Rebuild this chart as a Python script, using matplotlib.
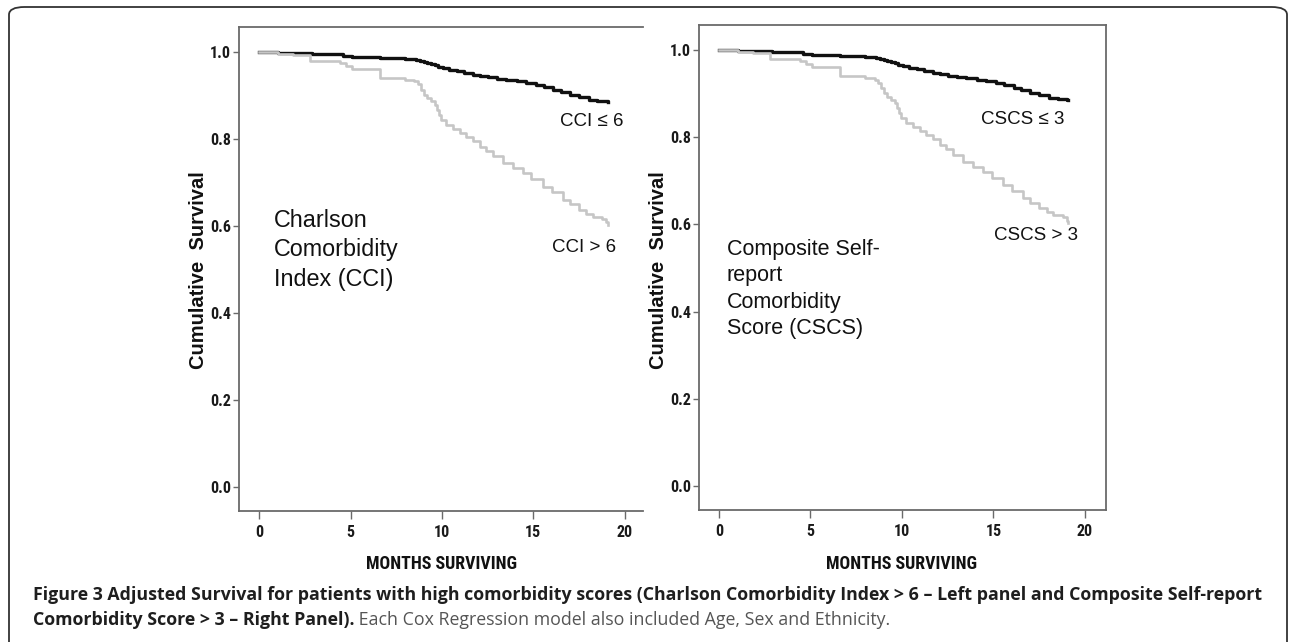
import matplotlib
matplotlib.use('Agg')
import matplotlib.pyplot as plt
from matplotlib import font_manager as fm
from matplotlib.patches import FancyBboxPatch

# ---------------- data ----------------
months_ticks = [0, 5, 10, 15, 20]
surv_ticks = [0.0, 0.2, 0.4, 0.6, 0.8, 1.0]
surv_ticklabels = ["0.0", "0.2", "0.4", "0.6", "0.8", "1.0"]

# Left panel: Charlson Comorbidity Index
cci_low_t = [0.0, 1.05, 1.9, 2.9, 4.3, 4.6, 5.1, 6.6, 8.0, 8.6, 8.8, 9.0, 9.2, 9.4, 9.6,
             9.8, 10.05, 10.4, 10.8, 11.2, 11.7, 12.1, 12.5, 13.0, 13.5, 14.1, 14.6,
             15.15, 15.6, 16.1, 16.5, 17.0, 17.5, 18.05, 18.5, 19.0, 19.1]
cci_low_s = [1.0, 0.998, 0.997, 0.995, 0.994, 0.991, 0.989, 0.986, 0.984, 0.982, 0.980,
             0.977, 0.975, 0.972, 0.969, 0.966, 0.962, 0.958, 0.955, 0.951, 0.947, 0.944,
             0.941, 0.937, 0.935, 0.932, 0.928, 0.924, 0.919, 0.913, 0.907, 0.901, 0.896,
             0.890, 0.888, 0.886, 0.884]
cci_high_t = [0.0, 1.05, 1.87, 2.78, 4.42, 4.78, 5.06, 6.6, 7.97, 8.5, 8.7, 8.85, 9.0,
              9.2, 9.42, 9.6, 9.75, 9.85, 9.97, 10.24, 10.6, 10.97, 11.3, 11.7, 12.06,
              12.4, 12.8, 13.33, 13.9, 14.42, 14.9, 15.51, 16.0, 16.6, 17.0, 17.51, 17.9,
              18.24, 18.78, 19.0, 19.1]
cci_high_s = [1.0, 0.995, 0.992, 0.980, 0.974, 0.968, 0.960, 0.940, 0.936, 0.932, 0.925,
              0.913, 0.901, 0.893, 0.886, 0.878, 0.866, 0.855, 0.844, 0.832, 0.822, 0.813,
              0.805, 0.795, 0.782, 0.772, 0.760, 0.744, 0.732, 0.721, 0.707, 0.690, 0.677,
              0.660, 0.650, 0.637, 0.628, 0.621, 0.617, 0.608, 0.602]

# Right panel: Composite Self-report Comorbidity Score
cscs_low_t = [0.0, 1.05, 1.9, 2.9, 4.3, 4.6, 5.1, 6.6, 8.0, 8.6, 8.8, 9.0, 9.2, 9.4, 9.6,
              9.8, 10.05, 10.4, 10.8, 11.2, 11.7, 12.1, 12.5, 13.0, 13.5, 14.1, 14.6,
              15.15, 15.6, 16.1, 16.5, 17.0, 17.5, 18.05, 18.5, 19.0, 19.1]
cscs_low_s = [1.0, 0.998, 0.997, 0.995, 0.994, 0.991, 0.989, 0.986, 0.984, 0.982, 0.980,
              0.977, 0.975, 0.972, 0.969, 0.966, 0.962, 0.958, 0.955, 0.951, 0.947, 0.944,
              0.941, 0.937, 0.935, 0.932, 0.928, 0.924, 0.919, 0.913, 0.907, 0.901, 0.896,
              0.890, 0.888, 0.886, 0.884]
cscs_high_t = [0.0, 1.05, 1.87, 2.78, 4.42, 4.78, 5.06, 6.6, 7.97, 8.5, 8.7, 8.85, 9.0,
               9.2, 9.42, 9.6, 9.75, 9.85, 9.97, 10.24, 10.6, 10.97, 11.3, 11.7, 12.06,
               12.4, 12.8, 13.33, 13.9, 14.42, 14.9, 15.51, 16.0, 16.6, 17.0, 17.51, 17.9,
               18.24, 18.78, 19.0, 19.1]
cscs_high_s = [1.0, 0.995, 0.992, 0.980, 0.974, 0.968, 0.960, 0.940, 0.936, 0.932, 0.925,
               0.913, 0.901, 0.893, 0.886, 0.878, 0.866, 0.855, 0.844, 0.832, 0.822, 0.813,
               0.805, 0.795, 0.782, 0.772, 0.760, 0.744, 0.732, 0.721, 0.707, 0.690, 0.677,
               0.660, 0.650, 0.637, 0.628, 0.621, 0.617, 0.608, 0.602]

x_label = "MONTHS SURVIVING"
y_label = "Cumulative  Survival"
left_title = "Charlson\nComorbidity\nIndex (CCI)"
right_title = "Composite Self-\nreport\nComorbidity\nScore (CSCS)"
cci_labels = ["CCI \u2264 6", "CCI > 6"]
cscs_labels = ["CSCS \u2264 3", "CSCS > 3"]
caption_bold_1 = ("Figure 3 Adjusted Survival for patients with high comorbidity scores "
                  "(Charlson Comorbidity Index > 6 \u2013 Left panel and Composite Self-report")
caption_bold_2 = "Comorbidity Score > 3 \u2013 Right Panel)."
caption_norm_2 = " Each Cox Regression model also included Age, Sex and Ethnicity."

# ---------------- fonts ----------------
ttf = fm.fontManager.ttflist
names = {f.name for f in ttf}
NARROW_KW = None
for cand in ('Liberation Sans Narrow', 'Arial Narrow', 'Roboto Condensed',
             'Open Sans Condensed'):
    if cand in names:
        NARROW_KW = dict(family=cand, weight='bold')
        break
if NARROW_KW is None:
    if any(f.name == 'DejaVu Sans' and 'ondensed' in f.fname for f in ttf):
        NARROW_KW = dict(family='DejaVu Sans', stretch='condensed', weight='bold')
    else:
        NARROW_KW = dict(family='Liberation Sans', weight='bold')
SANS = 'Liberation Sans'
CAP = 'Open Sans'

W, H = 1290, 642
fig = plt.figure(figsize=(W / 100, H / 100), dpi=100)


def fx(px):
    return px / W


def fy(py):
    return 1 - py / H


SPINE = '#6a6a6a'
BLACK = '#111111'
GREY = '#c6c6c6'


def panel(rect, xlim, ylim, low_t, low_s, high_t, high_s, show_right):
    ax = fig.add_axes(rect)
    ax.plot(low_t, low_s, drawstyle='steps-post', color=BLACK, lw=2.4, zorder=2)
    ax.plot(high_t, high_s, drawstyle='steps-post', color=GREY, lw=1.9, zorder=3)
    ax.set_xlim(*xlim)
    ax.set_ylim(*ylim)
    ax.set_xticks(months_ticks)
    ax.set_xticklabels([str(m) for m in months_ticks])
    ax.set_yticks(surv_ticks)
    ax.set_yticklabels(surv_ticklabels)
    for s in ax.spines.values():
        s.set_color(SPINE)
        s.set_linewidth(1.3)
    ax.spines['right'].set_visible(show_right)
    ax.tick_params(axis='both', direction='out', length=4.5, width=1.0, color=SPINE,
                   pad=1.2)
    ax.tick_params(axis='x', length=6, pad=4.0)
    for lab in ax.get_xticklabels() + ax.get_yticklabels():
        lab.set_fontproperties(fm.FontProperties(size=11.5, **NARROW_KW))
        lab.set_color('#1a1a1a')
    return ax


axL = panel([fx(239), fy(511), (643 - 239) / W, (511 - 27) / H], (-1.1, 21.0),
            (-0.055, 1.057), cci_low_t, cci_low_s, cci_high_t, cci_high_s, False)
axR = panel([fx(699), fy(510), (1106 - 699) / W, (510 - 25) / H], (-1.093, 21.15),
            (-0.055, 1.057), cscs_low_t, cscs_low_s, cscs_high_t, cscs_high_s, True)

fig.canvas.draw()
r = fig.canvas.get_renderer()

# x axis labels: fit to reference width (~150 px)
for cx in (442, 902):
    t = fig.text(fx(cx), fy(564), x_label, ha='center', va='center',
                 fontproperties=fm.FontProperties(size=13, **NARROW_KW), color='#111111')
    w = t.get_window_extent(r).width
    t.set_fontsize(min(15.0, 13.0 * 150 / w))

for cx in (199, 659):
    fig.text(fx(cx), fy(270), y_label, ha='center', va='center', rotation=90,
             family=SANS, weight='bold', fontsize=14.5, color='#111111')

# panel annotations
fig.text(fx(274), fy(209), left_title, ha='left', va='top', family=SANS,
         fontsize=16.8, linespacing=1.36, color='#111111')
fig.text(fx(727), fy(239), right_title, ha='left', va='top', family=SANS,
         fontsize=15.5, linespacing=1.33, color='#111111')

fig.text(fx(560), fy(122), cci_labels[0], ha='left', va='center', family=SANS,
         fontsize=13.5, color='#111111')
fig.text(fx(552), fy(247), cci_labels[1], ha='left', va='center', family=SANS,
         fontsize=13.5, color='#111111')
fig.text(fx(981), fy(120), cscs_labels[0], ha='left', va='center', family=SANS,
         fontsize=13.5, color='#111111')
fig.text(fx(994), fy(235), cscs_labels[1], ha='left', va='center', family=SANS,
         fontsize=13.5, color='#111111')

# frame
frame = FancyBboxPatch((fx(9), fy(655)), fx(1287) - fx(9), fy(7) - fy(655),
                       boxstyle='round,pad=0,rounding_size=0.012',
                       transform=fig.transFigure, fill=False, edgecolor='#333333',
                       lw=1.3, clip_on=False)
fig.patches.append(frame)

# caption: scale font so line 1 spans the reference width (~1234 px)
t1 = fig.text(fx(33), fy(595), caption_bold_1, ha='left', va='center', family=CAP,
              weight='bold', fontsize=10.0, color='#1e1e1e')
w1 = t1.get_window_extent(r).width
cap_fs = 10.0 * 1234 / w1
t1.set_fontsize(cap_fs)
t2 = fig.text(fx(33), fy(620), caption_bold_2, ha='left', va='center', family=CAP,
              weight='bold', fontsize=cap_fs, color='#1e1e1e')
bb = t2.get_window_extent(r)
fig.text(bb.x1 / W, fy(620), caption_norm_2, ha='left', va='center', family=CAP,
         fontsize=cap_fs, color='#555555')

fig.savefig('out.png', dpi=100)
